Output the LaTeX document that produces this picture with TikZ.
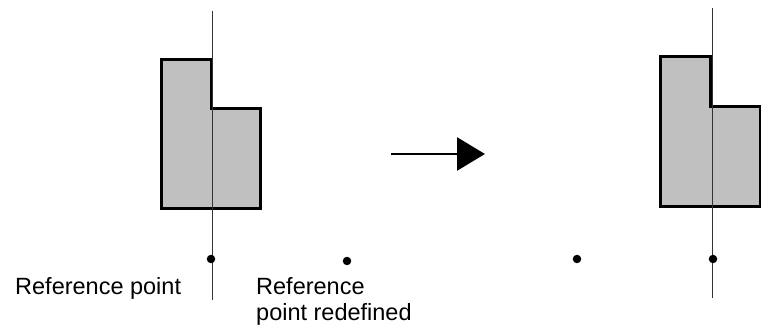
\documentclass[tikz,border=0pt]{standalone}
\usepackage{fontspec}
\setmainfont{Liberation Sans}
\usetikzlibrary{arrows.meta}

\begin{document}
\begin{tikzpicture}[x=1pt, y=-1pt,
  block/.style={draw, line width=3pt, fill={rgb,255:red,192;green,192;blue,192}, miter limit=10},
  axis/.style={line width=1pt, draw=black!80},
  refdot/.style={circle, fill=black, inner sep=0pt, minimum size=8.5pt},
  label/.style={inner sep=0pt, align=left, font=\fontsize{23.5}{26}\selectfont},
  arr/.style={-{Triangle[length=28pt, width=33pt]}, line width=2.5pt}
]
  \useasboundingbox (0,0) rectangle (761,331);

  % Before: block, axis through reference point
  \draw[block] (161,60) -- (211,60) -- (211,109) -- (260,109) -- (260,209) -- (161,209) -- cycle;
  \draw[axis] (212,11) -- (212,300);
  \node[refdot] (ref1) at (211,259) {};
  \node[refdot] (ref2) at (347,261) {};

  % After: block, axis through new reference point
  \draw[block] (660,57) -- (710,57) -- (710,107) -- (760,107) -- (760,207) -- (660,207) -- cycle;
  \draw[axis] (712,8) -- (712,298);
  \node[refdot] (ref3) at (577,259) {};
  \node[refdot] (ref4) at (713,259) {};

  % Transition arrow
  \coordinate (arrA) at (391,154);
  \coordinate (arrB) at (485,154);
  \draw[arr] (arrA) -- (arrB);

  % Labels
  \node[label, anchor=base west] (lblRef) at (15,295) {Reference point};
  \node[label, anchor=base west] (lblNew) at (256,320) {Reference\\point redefined};

\end{tikzpicture}
\end{document}
